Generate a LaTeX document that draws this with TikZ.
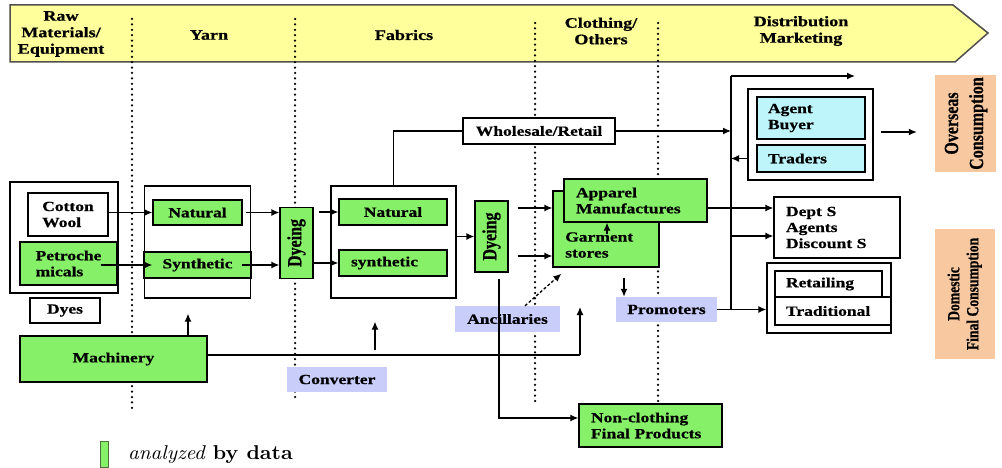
\documentclass[tikz,border=0pt]{standalone}
\usepackage{fontspec}
\usetikzlibrary{arrows.meta}
\newfontfamily\tnr{Liberation Serif}[FakeStretch=1.25,FakeBold=0.6]
\newfontfamily\tnrv{Liberation Serif}[FakeStretch=0.8,FakeBold=0.6]
\newfontfamily\lmx{lmroman10-regular.otf}[BoldFont=lmroman10-bold.otf,ItalicFont=lmroman10-italic.otf,FakeStretch=1.05]
\definecolor{gfill}{RGB}{135,240,105}
\definecolor{lavfill}{RGB}{200,205,250}
\definecolor{cyanfill}{RGB}{190,245,250}
\definecolor{peachfill}{RGB}{248,200,160}
\definecolor{bannerfill}{RGB}{255,255,155}
\definecolor{bannerline}{RGB}{80,80,80}
\definecolor{legline}{RGB}{80,110,60}
\newcommand\dyefont{\tnrv\bfseries\fontsize{20}{22}\selectfont}
% a column of round dots from y=#2 to y=#3 at x=#1
\newcommand\dotcolumn[3]{%
  \pgfmathsetmacro\dotsecond{#2+5.4}%
  \foreach \yy in {#2,\dotsecond,...,#3} {\fill[black] (#1,\yy) circle (1.25pt);}}
\begin{document}
\begin{tikzpicture}[x=1pt,y=-1pt,
  base/.style={inner sep=0pt, font=\tnr\bfseries\fontsize{14}{16}\selectfont, text=black},
  frame/.style={base, draw=black, line width=1.3pt, fill=white},
  gbox/.style={frame, fill=gfill},
  lav/.style={base, fill=lavfill},
  cbox/.style={frame, fill=cyanfill},
  peach/.style={base, fill=peachfill},
  sz/.style 2 args={minimum width=#1pt, minimum height=#2pt},
  head/.style={base, align=center, font=\tnr\bfseries\fontsize{14.5}{16.5}\selectfont},
  conn/.style={line width=1.3pt, draw=black},
  arr/.style={conn, -{Latex[length=8pt,width=7pt]}}]
\fill[white] (0,0) rectangle (1002,468);
\useasboundingbox (0,0) rectangle (1002,468);

% stage banner
\path[fill=bannerfill, draw=bannerline, line width=1.5pt]
  (10,5) -- (953,5) -- (988,33) -- (955,62) -- (10,62) -- cycle;

% stage separators
\dotcolumn{132}{19}{410}
\dotcolumn{295}{19}{398}
\dotcolumn{535}{23}{404}
\dotcolumn{658}{23}{403}

% banner labels
\node[head] (hraw) at (61,34) {Raw\\Materials/\\Equipment};
\node[head] (hyarn) at (209,35) {Yarn};
\node[head] (hfab) at (404,35) {Fabrics};
\node[head] (hcloth) at (601,31) {Clothing/\\Others};
\node[head] (hdist) at (801,31) {Distribution\\Marketing};

% raw materials
\node[frame, sz={108}{111}] (rawbox) at (64,237.5) {};
\node[frame, sz={80}{43}, align=left] (cotton) at (68,214.5) {Cotton\\Wool};
\node[gbox, sz={97}{43}, align=left] (petro) at (68.5,263.5) {Petroche\\micals};
\node[frame, sz={70}{25}] (dyes) at (65,310.5) {Dyes};
\node[gbox, sz={187}{46}] (mach) at (113.5,359) {Machinery};

% yarn
\node[frame, sz={106}{112}] (yarnbox) at (197.5,242) {};
\node[gbox, sz={89}{25}] (ynat) at (197.5,212.5) {Natural};
\node[gbox, sz={107}{26}] (ysyn) at (197.5,265) {Synthetic};
\node[gbox, sz={33}{71}] (dye1) at (296.5,243) {\dyefont\rotatebox{90}{Dyeing}};

% fabrics
\node[frame, sz={125}{112}] (fabbox) at (393.5,242) {};
\node[gbox, sz={108}{26}] (fnat) at (393,212) {Natural};
\node[gbox, sz={108}{26}, text width=84pt, align=left] (fsyn) at (393,263) {synthetic};
\node[gbox, sz={33}{71}] (dye2) at (491.5,236.5) {\dyefont\rotatebox{90}{Dyeing}};
\node[lav, sz={100}{25}] (conv) at (337,379.5) {Converter};
\node[frame, sz={152}{26}] (whole) at (539,131) {Wholesale/Retail};

% clothing
\node[gbox, sz={106}{76}] (garment) at (606,229) {};
\node[base, anchor=west, align=left] (garmenttext) at (565,245) {Garment\\stores};
\node[gbox, sz={143}{43}, text width=119pt, align=left] (apparel) at (635.5,200.5) {Apparel\\Manufactures};
\node[lav, sz={105}{26}] (ancill) at (507.5,319) {Ancillaries};
\node[lav, sz={101}{25}] (promo) at (666.5,309.5) {Promoters};
\node[gbox, sz={143}{43}, text width=119pt, align=left] (nonc) at (650.5,425.5) {Non-clothing\\Final Products};

% distribution
\node[frame, sz={125}{91}] (agentouter) at (810.5,134.5) {};
\node[cbox, sz={108}{42}, text width=86pt, align=left] (agent) at (811,118) {Agent\\Buyer};
\node[cbox, sz={108}{27}, text width=86pt, align=left] (traders) at (811,158.5) {Traders};
\node[frame, sz={126}{61}, text width=102pt, align=left] (dept) at (837,227.5) {Dept S\\Agents\\Discount S};
\node[frame, sz={124}{70}] (retailouter) at (829,298) {};
\node[frame, sz={107}{26}, text width=85pt, align=left] (retailing) at (828.5,284) {Retailing};
\node[frame, sz={116}{28}, text width=94pt, align=left] (traditional) at (833,311) {Traditional};

% consumption
\node[peach, sz={61}{97}] (overseas) at (965.5,123.5)
  {\tnrv\bfseries\fontsize{20}{25}\selectfont\rotatebox{90}{\begin{tabular}{@{}c@{}}Overseas\\Consumption\end{tabular}}};
\node[peach, sz={60}{130}] (domestic) at (965,294)
  {\tnrv\bfseries\fontsize{17}{19}\selectfont\rotatebox{90}{\begin{tabular}{@{}c@{}}Domestic\\Final Consumption\end{tabular}}};

% legend
\node[draw=legline, fill=gfill, line width=1pt, inner sep=0pt, sz={8}{26}] (legkey) at (104,454) {};
\node[anchor=base west, inner sep=0pt, font=\lmx\fontsize{20}{22}\selectfont] (legtext) at (128,459) {\textit{analyzed} \textbf{by data}};

% junctions
\coordinate (vt) at (731,76);
\coordinate (vb) at (promo.east -| vt);
\coordinate (topend) at (855,76);
\coordinate (mj) at (580,355);
\coordinate (mtop) at (580,307);

% flows
\draw[arr] (cotton.east |- ynat.west) -- (ynat.west);
\draw[arr] ([xshift=-17pt]petro.east |- ysyn.west) -- ([xshift=9pt]ysyn.west);
\draw[arr] ([xshift=3pt]ynat.east) -- (ynat.east -| dye1.west);
\draw[arr] ([xshift=-10pt]ysyn.east) -- (ysyn.east -| dye1.west);
\draw[arr] ([xshift=5pt]dye1.east |- fnat.west) -- (fnat.west);
\draw[arr] (dye1.east |- fsyn.west) -- (fsyn.west);
\draw[arr] (fabbox.east |- dye2.west) -- (dye2.west);
\draw[arr] ([xshift=9pt]dye2.east |- 0,208) -- (garment.west |- 0,208);
\draw[arr] ([xshift=9pt]dye2.east |- 0,256) -- (garment.west |- 0,256);
\draw[arr] ([yshift=-11pt]apparel.south -| 607,0) -- (apparel.south -| 607,0);
\draw[arr] ([yshift=-10pt]garment.south -| 624,0) -- (promo.north -| 624,0);
\draw[arr, dash pattern=on 3pt off 2pt] ([xshift=17.5pt]ancill.north) -- ([xshift=9pt,yshift=-6pt]garment.south west);
\draw[conn] (fabbox.north) |- (whole.west);
\draw[arr] (whole.east) -- (whole.east -| vt);
\draw[conn] (vb) -- (vt);
\draw[arr] (vt) -- (topend);
\draw[arr] (agentouter.west |- traders) -- (traders -| vt);
\draw[arr] (apparel.east |- 0,208) -- (dept.west |- 0,208);
\draw[arr] (vt |- 0,236) -- (dept.west |- 0,236);
\draw[arr] (promo.east) -- (promo.east -| retailouter.west);
\draw[arr] ([xshift=7pt]agentouter.east |- 0,132) -- ([xshift=-18pt]overseas.west |- 0,132);
\draw[conn] (mach.east |- mj) -- (mj);
\draw[arr] (mj) -- (mtop);
\draw[arr] (mach.north -| 188,0) -- ([yshift=-15pt]yarnbox.south -| 188,0);
\draw[arr] (375,350) -- ([yshift=-23pt]fabbox.south -| 375,0);
\draw[arr] ([yshift=-6pt]dye2.south -| 499,0) |- (nonc.west |- 0,418);
\end{tikzpicture}
\end{document}
